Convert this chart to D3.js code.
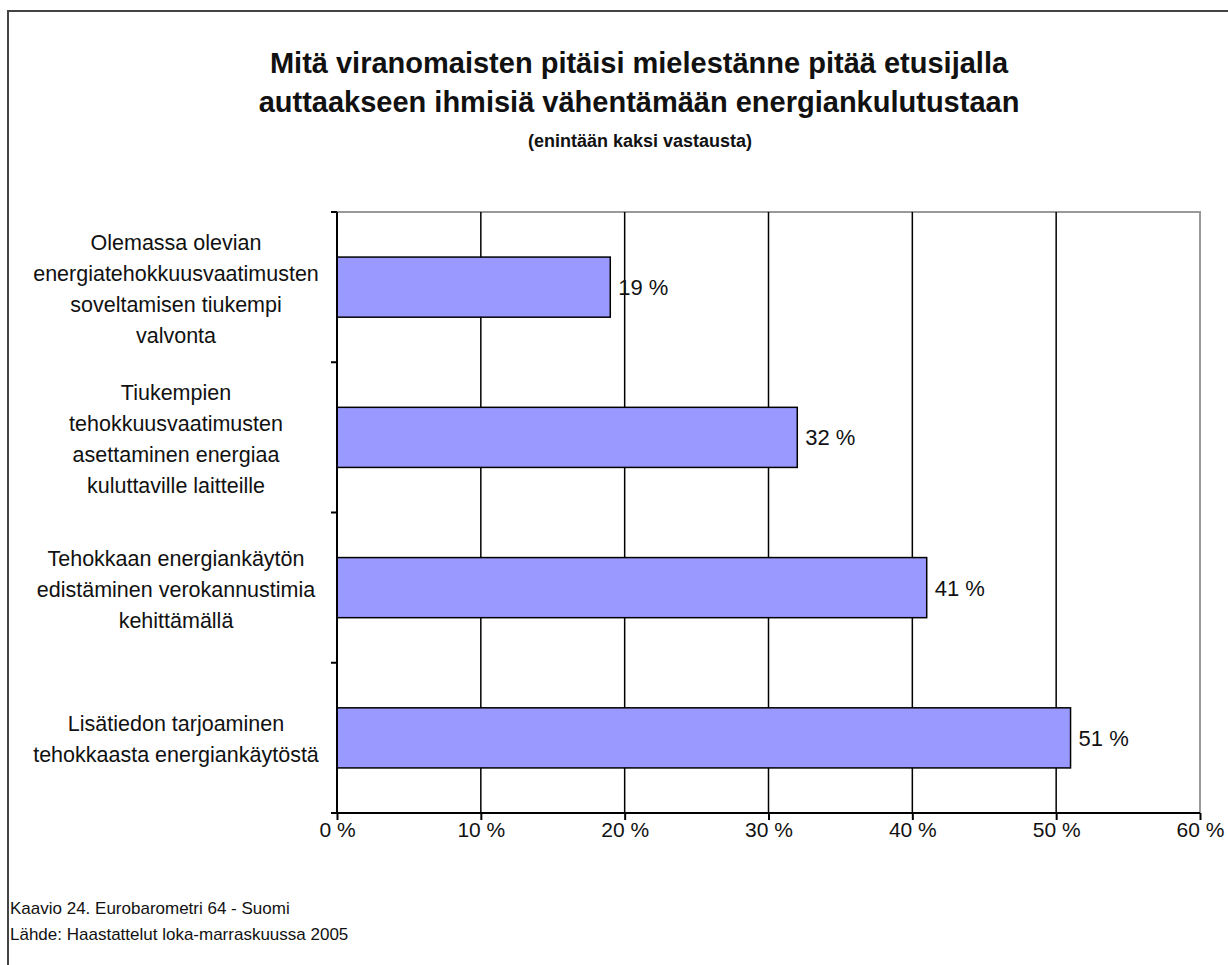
<!DOCTYPE html>
<html>
<head>
<meta charset="utf-8">
<script src="https://cdn.jsdelivr.net/npm/d3@7"></script>
<style>
  body { margin: 0; background: #fff; }
  text { font-family: "Liberation Sans", Arial, sans-serif; fill: #111; }
</style>
</head>
<body>
<div id="chart"></div>
<script>
// Chart data
var titleLines = ["Mitä viranomaisten pitäisi mielestänne pitää etusijalla",
                  "auttaakseen ihmisiä vähentämään energiankulutustaan"];
var subtitle = "(enintään kaksi vastausta)";
var categories = [
    ["Olemassa olevian", "energiatehokkuusvaatimusten", "soveltamisen tiukempi", "valvonta"],
    ["Tiukempien", "tehokkuusvaatimusten", "asettaminen energiaa", "kuluttaville laitteille"],
    ["Tehokkaan energiankäytön", "edistäminen verokannustimia", "kehittämällä"],
    ["Lisätiedon tarjoaminen", "tehokkaasta energiankäytöstä"]
];
var values = [19, 32, 41, 51];
var xTicks = [0, 10, 20, 30, 40, 50, 60];
var footer = ["Kaavio 24. Eurobarometri 64 - Suomi",
              "Lähde: Haastattelut loka-marraskuussa 2005"];

var width = 1228, height = 965;
var plot = {left: 337, right: 1200, top: 212, bottom: 813};

var svg = d3.select("#chart")
    .append("svg")
    .attr("width", width)
    .attr("height", height);

// Outer frame
svg.append("rect")
    .attr("x", 8).attr("y", 11)
    .attr("width", width).attr("height", height)
    .attr("fill", "#fff")
    .attr("stroke", "#444")
    .attr("stroke-width", 2);

// Titles
svg.selectAll(".title")
    .data(titleLines)
    .enter()
    .append("text")
    .attr("class", "title")
    .attr("x", 639)
    .attr("y", function(d, i) { return 73 + i * 39; })
    .attr("text-anchor", "middle")
    .style("font-size", "29px")
    .style("font-weight", "bold")
    .text(function(d) { return d; });

svg.append("text")
    .attr("x", 640)
    .attr("y", 147)
    .attr("text-anchor", "middle")
    .style("font-size", "18px")
    .style("font-weight", "bold")
    .text(subtitle);

// Scales
var x = d3.scaleLinear()
    .domain([0, 60])
    .range([plot.left, plot.right]);

var y = d3.scaleBand()
    .domain(d3.range(categories.length))
    .range([plot.top, plot.bottom])
    .paddingInner(0.6)
    .paddingOuter(0.3);

// Plot frame (top and right)
svg.append("path")
    .attr("d", "M" + plot.left + "," + plot.top + "H" + plot.right + "V" + plot.bottom)
    .attr("fill", "none")
    .attr("stroke", "#999")
    .attr("stroke-width", 2);

// Gridlines
svg.append("g")
    .selectAll("line")
    .data(xTicks.slice(1, -1))
    .enter()
    .append("line")
    .attr("x1", function(d) { return x(d); })
    .attr("x2", function(d) { return x(d); })
    .attr("y1", plot.top)
    .attr("y2", plot.bottom)
    .attr("stroke", "#000")
    .attr("stroke-width", 1.5);

// Bars
svg.append("g")
    .selectAll("rect")
    .data(values)
    .enter()
    .append("rect")
    .attr("x", x(0))
    .attr("y", function(d, i) { return y(i); })
    .attr("width", function(d) { return x(d) - x(0); })
    .attr("height", y.bandwidth())
    .attr("fill", "#9999ff")
    .attr("stroke", "#000")
    .attr("stroke-width", 1.5);

// Value labels
svg.append("g")
    .selectAll("text")
    .data(values)
    .enter()
    .append("text")
    .attr("x", function(d) { return x(d) + 8; })
    .attr("y", function(d, i) { return y(i) + y.bandwidth() / 2 + 8; })
    .style("font-size", "22px")
    .text(function(d) { return d + " %"; });

// X axis
var xAxis = d3.axisBottom(x)
    .tickValues(xTicks)
    .tickSize(7)
    .tickPadding(2)
    .tickFormat(function(d) { return d + " %"; });

var gx = svg.append("g")
    .attr("transform", "translate(0," + plot.bottom + ")")
    .call(xAxis);
gx.select(".domain").attr("stroke", "#000").attr("stroke-width", 2)
    .attr("d", "M" + (plot.left - 6) + ",0H" + plot.right);
gx.selectAll(".tick line").attr("stroke", "#000").attr("stroke-width", 2);
gx.selectAll(".tick text")
    .style("font-family", "'Liberation Sans', Arial, sans-serif")
    .style("font-size", "21px")
    .attr("fill", "#111");

// Y axis line with ticks at band boundaries
var step = y.step();
var yEdges = d3.range(categories.length + 1).map(function(i) { return y(0) - y.paddingOuter() * step + i * step; });
svg.append("line")
    .attr("x1", plot.left).attr("x2", plot.left)
    .attr("y1", plot.top).attr("y2", plot.bottom)
    .attr("stroke", "#000").attr("stroke-width", 2);
svg.append("g")
    .selectAll("line")
    .data(yEdges)
    .enter()
    .append("line")
    .attr("x1", plot.left - 6).attr("x2", plot.left)
    .attr("y1", function(d) { return d; })
    .attr("y2", function(d) { return d; })
    .attr("stroke", "#000").attr("stroke-width", 2);

// Category labels
var lineH = 31;
svg.append("g")
    .selectAll("text")
    .data(categories)
    .enter()
    .append("text")
    .attr("text-anchor", "middle")
    .style("font-size", "21.5px")
    .attr("fill", "#222")
    .each(function(lines, i) {
        var cy = y(i) + y.bandwidth() / 2 + 2;
        var y0 = cy - (lines.length - 1) * lineH / 2 + 7;
        d3.select(this).selectAll("tspan")
            .data(lines)
            .enter()
            .append("tspan")
            .attr("x", 176)
            .attr("y", function(d, j) { return y0 + j * lineH; })
            .text(function(d) { return d; });
    });

// Footer
svg.selectAll(".footer")
    .data(footer)
    .enter()
    .append("text")
    .attr("class", "footer")
    .attr("x", 10)
    .attr("y", function(d, i) { return 914 + i * 26; })
    .style("font-size", "17px")
    .text(function(d) { return d; });
</script>
</body>
</html>
